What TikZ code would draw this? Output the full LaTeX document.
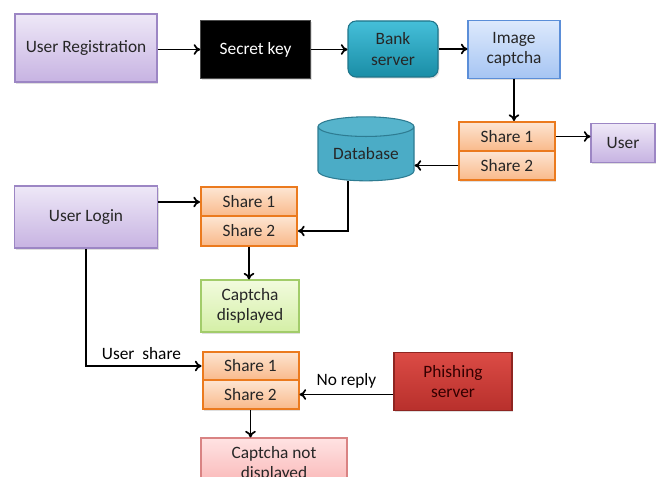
\documentclass[tikz,border=0pt]{standalone}
\usepackage{fontspec}
\setmainfont{Carlito}
\usetikzlibrary{arrows.meta,shapes.geometric,shadows}
\definecolor{lavtop}{HTML}{EEE8F7}
\definecolor{lavbot}{HTML}{C7B3E2}
\definecolor{lavline}{HTML}{9C86C4}
\definecolor{tealtop}{HTML}{45BFD9}
\definecolor{tealbot}{HTML}{1A8DA6}
\definecolor{tealline}{HTML}{1F7489}
\definecolor{dbbody}{HTML}{4BACC6}
\definecolor{dbend}{HTML}{56B4CC}
\definecolor{dbline}{HTML}{2E7C92}
\definecolor{skytop}{HTML}{DDE9FC}
\definecolor{skybot}{HTML}{A6C5F3}
\definecolor{skyline}{HTML}{5B8ED8}
\definecolor{ortop}{HTML}{FDE5D2}
\definecolor{orbot}{HTML}{F9B98A}
\definecolor{orline}{HTML}{EB7A1E}
\definecolor{grtop}{HTML}{F2FBDE}
\definecolor{grbot}{HTML}{D4EFA6}
\definecolor{grline}{HTML}{A2CC6A}
\definecolor{rdtop}{HTML}{DB4B45}
\definecolor{rdbot}{HTML}{B8302C}
\definecolor{rdline}{HTML}{8E2521}
\definecolor{pktop}{HTML}{FFE3E3}
\definecolor{pkbot}{HTML}{F9B2B2}
\definecolor{pkline}{HTML}{D98383}

\begin{document}
\begin{tikzpicture}[x=0.75pt, y=-0.75pt,
    font=\fontsize{13}{15.5}\selectfont,
    box/.style={draw, align=center, inner sep=0pt, text=black!85, line width=0.8pt,
      drop shadow={shadow xshift=1pt, shadow yshift=-1.2pt, opacity=0.25}},
    share/.style={box, draw=orline, line width=1.5pt, top color=ortop,
      bottom color=orbot, minimum width=72pt, minimum height=21.75pt},
    purplebox/.style={box, draw=lavline, top color=lavtop, bottom color=lavbot},
    arr/.style={-{To[length=5pt,width=8pt]}, line width=1.3pt}]
  \useasboundingbox (0,0) rectangle (656,477);

  % registration row
  \node[purplebox, minimum width=106.5pt, minimum height=51pt] (reg) at (86,48) {User Registration};
  \node[box, fill=black, draw=black!70, text=white, minimum width=82pt, minimum height=43pt] (key) at (255.5,49.5) {Secret key};
  \node[box, rounded corners=6pt, draw=tealline, top color=tealtop, bottom color=tealbot,
    minimum width=67.5pt, minimum height=42pt] (bank) at (393,49) {Bank\\server};
  \node[box, draw=skyline, top color=skytop, bottom color=skybot, minimum width=69pt, minimum height=43pt] (img) at (514,49.5) {Image\\captcha};

  % shares made at registration
  \node[share] (s1a) at (507,136.5) {Share 1};
  \node[share] (s2a) at (507,165.5) {Share 2};
  \node[purplebox, minimum width=48pt, minimum height=29pt] (user) at (623,143) {User};
  \node[cylinder, shape border rotate=90, draw=dbline, line width=0.8pt, aspect=0.3,
    cylinder uses custom fill, cylinder body fill=dbbody, cylinder end fill=dbend,
    minimum width=72pt, minimum height=48pt, text=black!85, inner sep=0pt] (db) at (366,154) {Database};

  % login
  \node[purplebox, minimum width=107pt, minimum height=46.5pt] (login) at (86,217) {User Login};
  \node[share] (s1b) at (249,202) {Share 1};
  \node[share] (s2b) at (249,231) {Share 2};
  \node[box, draw=grline, top color=grtop, bottom color=grbot,
    minimum width=73.5pt, minimum height=39pt] (ok) at (250,306) {Captcha\\displayed};

  % phishing
  \node[share] (s1c) at (250.5,366) {Share 1};
  \node[share] (s2c) at (250.5,394.5) {Share 2};
  \node[box, draw=rdline, top color=rdtop, bottom color=rdbot, text=black!80!red,
    minimum width=88.5pt, minimum height=43pt] (phish) at (453,381.5) {Phishing\\server};
  \node[box, draw=pkline, top color=pktop, bottom color=pkbot, minimum width=109.5pt, minimum height=39pt] (notok) at (274,464) {Captcha not\\displayed};

  \draw[arr] (reg.east |- key) -- (key.west);
  \draw[arr] (key.east) -- (key.east -| bank.west);
  \draw[arr] (bank.east) -- (bank.east -| img.west);
  \draw[arr] (img.south) -- (img.south |- s1a.north);
  \draw[arr] (s1a.east) -- (s1a.east -| user.west);
  \draw[arr] (s2a.west) -- (s2a.west -| db.east);
  \draw[arr] ([xshift=-13.5pt]db.south) |- (s2b.east);
  \draw[arr] (login.east |- s1b) -- (s1b.west);
  \draw[arr] (s2b.south) -- (s2b.south |- ok.north);
  \draw[arr] (login.south) |- node[pos=0.74, above, inner sep=4pt] {User~ share} (s1c.west);
  \draw[arr] (phish.west |- s2c) -- node[above, inner sep=4pt] {No reply} (s2c.east);
  \draw[arr] (s2c.south) -- (s2c.south |- notok.north);
\end{tikzpicture}
\end{document}
